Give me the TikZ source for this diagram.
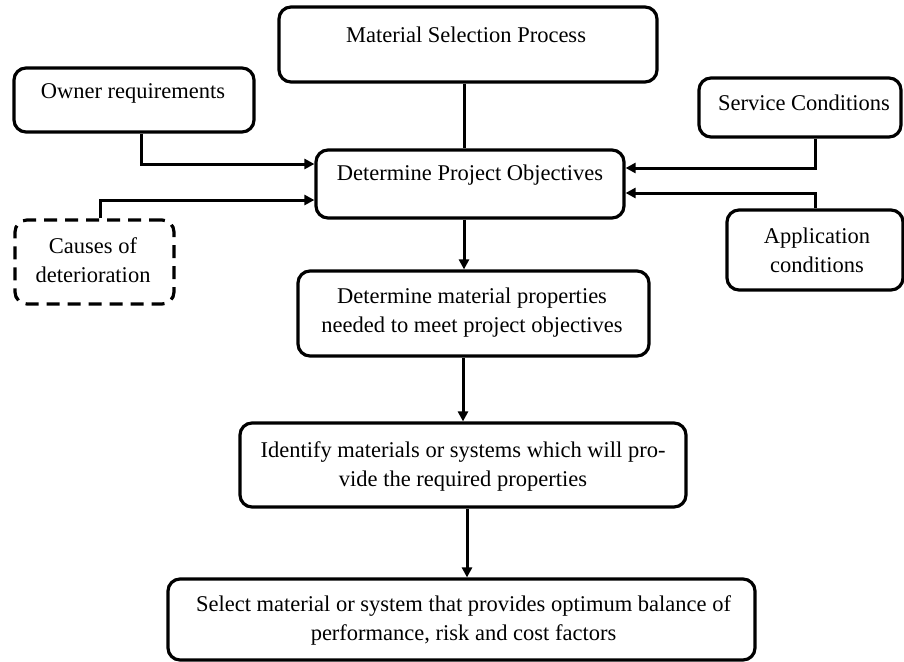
\documentclass[tikz,border=0pt]{standalone}
\usepackage{fontspec}
\setmainfont{Liberation Serif}
\usetikzlibrary{arrows.meta}
\begin{document}
\begin{tikzpicture}[x=1pt,y=-1pt,
  box/.style={draw, line width=3.2pt, rounded corners=12pt, inner sep=0pt, outer sep=1.6pt},
  dbox/.style={box, dash pattern=on 13pt off 8pt},
  txt/.style={font=\fontsize{22.5}{29}\selectfont, align=center, inner sep=0pt},
  conn/.style={line width=3pt},
  arr/.style={conn, -{Triangle[length=10pt,width=10pt]}}]
\useasboundingbox (0,0) rectangle (904,661);
% boxes
\node[box, minimum width=378pt, minimum height=75pt] (msp) at (468,44.5) {};
\node[box, minimum width=240pt, minimum height=64pt] (owner) at (134,100) {};
\node[box, minimum width=308pt, minimum height=68pt] (dpo) at (470,184) {};
\node[dbox, minimum width=159pt, minimum height=84pt] (causes) at (94.5,262) {};
\node[box, minimum width=202pt, minimum height=59pt] (service) at (800,107.5) {};
\node[box, minimum width=176pt, minimum height=80pt] (appl) at (815,250) {};
\node[box, minimum width=351pt, minimum height=85pt] (dmp) at (473.5,313.5) {};
\node[box, minimum width=446pt, minimum height=84pt] (ident) at (463,465) {};
\node[box, minimum width=587pt, minimum height=81pt] (select) at (461.5,619.5) {};
% texts
\node[txt] (tmsp) at (466,35) {Material Selection Process};
\node[txt] (towner) at (133,93) {Owner requirements};
\node[txt] (tdpo) at (470,175) {Determine Project Objectives};
\node[txt] (tcauses) at (93,260) {Causes of\\deterioration};
\node[txt] (tservice) at (804,103) {Service Conditions};
\node[txt] (tappl) at (817,250.5) {Application\\conditions};
\node[txt] (tdmp) at (472,312.5) {Determine material properties\\needed to meet project objectives};
\node[txt] (tident) at (463,466) {Identify materials or systems which will pro-\\vide the required properties};
\node[txt] (tselect) at (463.5,620) {Select material or system that provides optimum balance of\\performance, risk and cost factors};
% connectors
\draw[conn] ([xshift=-4pt]msp.south) -- ([xshift=-4pt]msp.south |- dpo.north);
\draw[arr] ([xshift=-6pt]dpo.south) -- ([xshift=-6pt]dpo.south |- dmp.north);
\draw[arr] ([xshift=-10.5pt]dmp.south) -- ([xshift=-10.5pt]dmp.south |- ident.north);
\draw[arr] ([xshift=4pt]ident.south) -- ([xshift=4pt]ident.south |- select.north);
\draw[arr] ([xshift=7pt]owner.south) |- ([yshift=20pt]dpo.west);
\draw[arr] ([xshift=5.5pt]causes.north) |- ([yshift=-16pt]dpo.west);
\draw[arr] ([xshift=15pt]service.south) |- ([yshift=16pt]dpo.east);
\draw[arr] (appl.north) |- ([yshift=-9pt]dpo.east);
\end{tikzpicture}
\end{document}
